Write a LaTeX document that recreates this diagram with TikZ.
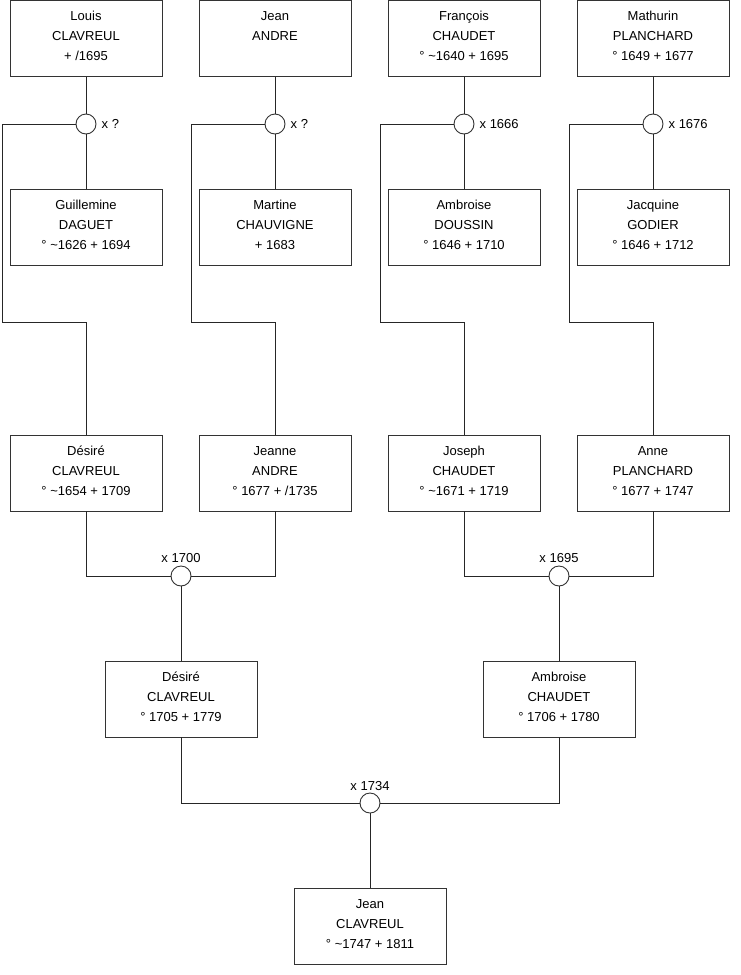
\documentclass[tikz,border=0pt]{standalone}
\usepackage{fontspec}
\setmainfont{Liberation Sans}
\newcommand{\pbox}[1]{\parbox[c][76pt][t]{152pt}{\centering\fontsize{13}{20}\selectfont\rule{0pt}{20pt}#1}}
\begin{document}
\begin{tikzpicture}[x=1pt,y=-1pt,
  person/.style={draw=black!80, line width=0.9pt, fill=white, minimum width=152pt, minimum height=76pt, inner sep=0pt},
  union/.style={circle, draw=black!80, line width=0.9pt, fill=white, minimum size=20pt, inner sep=0pt},
  lbl/.style={font=\fontsize{13}{16}\selectfont, inner sep=1pt},
  link/.style={draw=black!85, line width=0.9pt}]
\useasboundingbox (0,0) rectangle (740,975);
% top row
\node[person] (louis) at (86,38.5) {\pbox{Louis\\CLAVREUL\\+ /1695}};
\node[person] (jean1) at (275,38.5) {\pbox{Jean\\ANDRE}};
\node[person] (francois) at (464,38.5) {\pbox{François\\CHAUDET\\° \textasciitilde1640 + 1695}};
\node[person] (mathurin) at (653,38.5) {\pbox{Mathurin\\PLANCHARD\\° 1649 + 1677}};
% unions row 1
\node[union] (u1) at (86,124) {};
\node[union] (u2) at (275,124) {};
\node[union] (u3) at (464,124) {};
\node[union] (u4) at (653,124) {};
\node[lbl, anchor=west] at ([xshift=4pt]u1.east) {x ?};
\node[lbl, anchor=west] at ([xshift=4pt]u2.east) {x ?};
\node[lbl, anchor=west] at ([xshift=4pt]u3.east) {x 1666};
\node[lbl, anchor=west] at ([xshift=4pt]u4.east) {x 1676};
% second row
\node[person] (guillemine) at (86,227) {\pbox{Guillemine\\DAGUET\\° \textasciitilde1626 + 1694}};
\node[person] (martine) at (275,227) {\pbox{Martine\\CHAUVIGNE\\+ 1683}};
\node[person] (ambroise1) at (464,227) {\pbox{Ambroise\\DOUSSIN\\° 1646 + 1710}};
\node[person] (jacquine) at (653,227) {\pbox{Jacquine\\GODIER\\° 1646 + 1712}};
% third row
\node[person] (desire1) at (86,473) {\pbox{Désiré\\CLAVREUL\\° \textasciitilde1654 + 1709}};
\node[person] (jeanne) at (275,473) {\pbox{Jeanne\\ANDRE\\° 1677 + /1735}};
\node[person] (joseph) at (464,473) {\pbox{Joseph\\CHAUDET\\° \textasciitilde1671 + 1719}};
\node[person] (anne) at (653,473) {\pbox{Anne\\PLANCHARD\\° 1677 + 1747}};
% unions row 2
\node[union] (u5) at (181,576) {};
\node[union] (u6) at (559,576) {};
\node[lbl, anchor=south] at ([yshift=2pt]u5.north) {x 1700};
\node[lbl, anchor=south] at ([yshift=2pt]u6.north) {x 1695};
% fourth row
\node[person] (desire2) at (181,699) {\pbox{Désiré\\CLAVREUL\\° 1705 + 1779}};
\node[person] (ambroise2) at (559,699) {\pbox{Ambroise\\CHAUDET\\° 1706 + 1780}};
% union row 3
\node[union] (u7) at (370,803) {};
\node[lbl, anchor=south] at ([yshift=1pt]u7.north) {x 1734};
% last
\node[person] (jean2) at (370,926) {\pbox{Jean\\CLAVREUL\\° \textasciitilde1747 + 1811}};
% corner coordinates
\coordinate (a1) at (2,124);   \coordinate (a2) at (2,322);   \coordinate (a3) at (86,322);
\coordinate (b1) at (191,124); \coordinate (b2) at (191,322); \coordinate (b3) at (275,322);
\coordinate (c1) at (380,124); \coordinate (c2) at (380,322); \coordinate (c3) at (464,322);
\coordinate (d1) at (569,124); \coordinate (d2) at (569,322); \coordinate (d3) at (653,322);
% row 1 links
\path[link] (louis.south) -- (u1.north) (u1.south) -- (guillemine.north);
\path[link] (jean1.south) -- (u2.north) (u2.south) -- (martine.north);
\path[link] (francois.south) -- (u3.north) (u3.south) -- (ambroise1.north);
\path[link] (mathurin.south) -- (u4.north) (u4.south) -- (jacquine.north);
\path[link] (u1.west) -- (a1) -- (a2) -- (a3) -- (desire1.north);
\path[link] (u2.west) -- (b1) -- (b2) -- (b3) -- (jeanne.north);
\path[link] (u3.west) -- (c1) -- (c2) -- (c3) -- (joseph.north);
\path[link] (u4.west) -- (d1) -- (d2) -- (d3) -- (anne.north);
% row 2 links
\path[link] (desire1.south) |- (u5.west);
\path[link] (jeanne.south) |- (u5.east);
\path[link] (joseph.south) |- (u6.west);
\path[link] (anne.south) |- (u6.east);
\path[link] (u5.south) -- (desire2.north);
\path[link] (u6.south) -- (ambroise2.north);
% row 3 links
\path[link] (desire2.south) |- (u7.west);
\path[link] (ambroise2.south) |- (u7.east);
\path[link] (u7.south) -- (jean2.north);
\end{tikzpicture}
\end{document}
